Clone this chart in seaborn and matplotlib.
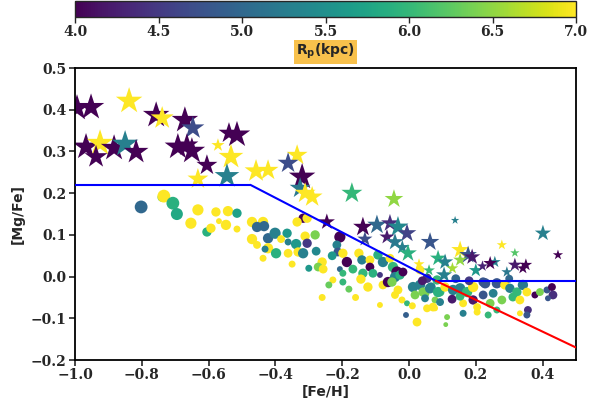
import matplotlib
matplotlib.use("Agg")
import matplotlib.pyplot as plt
import matplotlib.colors as mcolors
import matplotlib.cm as cm
import pandas as pd
import seaborn as sns

# ---- stars: [Fe/H], [Mg/Fe], guiding radius Rp (kpc), marker area ----
star_feh = [-0.994, -0.952, -0.838, -0.757, -0.739, -0.671, -0.647, -0.515, -0.539,
            -0.967, -0.925, -0.937, -0.883, -0.850, -0.817, -0.692, -0.665, -0.650,
            -0.572, -0.533, -0.605, -0.632, -0.545, -0.458, -0.422, -0.335, -0.362,
            -0.320, -0.326, -0.311, -0.290, -0.171, -0.045, -0.246, -0.138, -0.096,
            -0.057, -0.033, -0.006, -0.066, -0.042, -0.132, -0.020, 0.138, 0.401,
            0.063, 0.278, 0.317, 0.446, 0.153, 0.177, 0.189, 0.087, 0.108, -0.003,
            0.257, 0.243, 0.317, 0.341, 0.293, 0.153, 0.105, 0.200, 0.130, 0.220,
            0.060, 0.030, 0.350]
star_mgfe = [0.404, 0.406, 0.421, 0.387, 0.380, 0.375, 0.356, 0.340, 0.344,
             0.311, 0.320, 0.287, 0.308, 0.318, 0.299, 0.311, 0.315, 0.301,
             0.315, 0.287, 0.267, 0.234, 0.241, 0.253, 0.255, 0.291, 0.272,
             0.239, 0.212, 0.200, 0.191, 0.200, 0.186, 0.131, 0.119, 0.124,
             0.128, 0.119, 0.104, 0.095, 0.083, 0.090, 0.070, 0.135, 0.104,
             0.083, 0.076, 0.057, 0.052, 0.064, 0.052, 0.047, 0.044, 0.035, 0.056,
             0.035, 0.032, 0.028, 0.020, 0.011, 0.040, 0.004, 0.015, 0.020, 0.025,
             0.015, 0.030, 0.028]
star_rp = [4.0, 4.0, 7.0, 4.0, 7.0, 4.0, 4.7, 4.0, 4.0,
           4.0, 7.0, 4.0, 4.0, 5.3, 4.0, 4.0, 4.0, 4.0,
           7.0, 7.0, 4.0, 7.0, 5.3, 7.0, 7.0, 7.0, 4.7,
           4.0, 5.2, 7.0, 7.0, 6.0, 6.5, 4.0, 4.0, 5.0,
           4.4, 5.4, 4.6, 4.2, 5.2, 4.7, 5.3, 5.3, 5.3,
           4.8, 7.0, 6.2, 4.0, 7.0, 4.8, 4.2, 5.9, 5.3, 5.9,
           5.3, 4.0, 4.2, 4.0, 5.2, 6.5, 5.3, 5.6, 6.6, 4.3,
           6.0, 7.0, 4.0]
star_size = [400, 400, 400, 400, 300, 400, 300, 400, 250,
             400, 400, 300, 400, 400, 350, 400, 300, 400,
             100, 350, 250, 250, 350, 300, 250, 250, 250,
             400, 250, 250, 250, 250, 200, 150, 220, 220,
             180, 250, 200, 130, 170, 130, 120, 40, 150,
             200, 60, 50, 60, 180, 180, 150, 150, 150, 180,
             80, 110, 110, 80, 70, 110, 150, 110, 80, 70,
             80, 70, 90]

# ---- circles ----
circ_feh = [-0.802, -0.740, -0.734, -0.707, -0.695, -0.653, -0.632, -0.605, -0.593,
            -0.578, -0.542, -0.515, -0.548, -0.569, -0.515, -0.470, -0.437, -0.455,
            -0.434, -0.422, -0.401, -0.365, -0.383, -0.338, -0.362, -0.470, -0.455,
            -0.422, -0.398, -0.437, -0.362, -0.332, -0.317, -0.317, -0.305, -0.335,
            -0.311, -0.305, -0.431, -0.281, -0.278, -0.207, -0.216, -0.213, -0.198,
            -0.186, -0.207, -0.198, -0.260, -0.272, -0.257, -0.228, -0.198, -0.168,
            -0.150, -0.141, -0.117, -0.117, -0.138, -0.108, -0.144, -0.123, -0.093,
            -0.078, -0.057, -0.087, -0.078, -0.063, -0.048, -0.036, -0.042, -0.051,
            -0.027, -0.018, -0.033, -0.021, -0.006, -0.042, -0.087, 0.024, -0.009,
            0.012, 0.018, 0.033, 0.048, 0.054, 0.066, 0.078, 0.093, 0.114, 0.078,
            0.033, 0.084, 0.042, 0.063, 0.087, 0.108, 0.132, 0.153, 0.174, 0.192,
            0.228, 0.263, 0.287, 0.302, 0.323, 0.341, 0.353, 0.377, 0.392, 0.413,
            0.428, 0.431, 0.416, 0.129, 0.192, 0.162, 0.204, 0.243, 0.278, 0.311,
            0.332, 0.356, 0.353, 0.072, 0.054, 0.237, 0.162, 0.204, 0.263, 0.222,
            0.252, 0.153, 0.093, 0.048, 0.332, 0.222, 0.010, 0.040, 0.140, 0.180,
            0.300, 0.110, -0.240, -0.260, -0.180, -0.230, -0.300, -0.350, -0.160]
circ_mgfe = [0.167, 0.190, 0.193, 0.176, 0.150, 0.128, 0.160, 0.107, 0.116,
             0.155, 0.157, 0.152, 0.124, 0.133, 0.114, 0.131, 0.131, 0.119,
             0.121, 0.092, 0.104, 0.104, 0.090, 0.078, 0.083, 0.090, 0.076,
             0.068, 0.056, 0.044, 0.056, 0.059, 0.056, 0.140, 0.140, 0.131,
             0.097, 0.080, 0.066, 0.100, 0.061, 0.095, 0.076, 0.059, 0.056,
             0.035, 0.018, 0.008, 0.035, 0.023, 0.018, -0.008, -0.013, 0.018,
             0.056, 0.040, 0.040, 0.023, 0.008, 0.008, -0.006, -0.025, 0.052,
             0.035, 0.044, 0.004, -0.020, -0.013, 0.023, 0.011, -0.001, -0.013,
             0.004, 0.011, -0.032, -0.056, -0.064, -0.044, -0.068, -0.109, -0.092,
             -0.025, -0.044, -0.020, -0.040, -0.004, -0.025, -0.056, -0.037, -0.097, -0.076,
             0.016, -0.008, -0.037, -0.028, -0.037, -0.025, -0.032, -0.028, -0.037, -0.025,
             -0.016, -0.016, -0.020, -0.028, -0.037, -0.020, -0.037, -0.044, -0.037, -0.032,
             -0.025, -0.044, -0.052, -0.054, -0.056, -0.064, -0.073, -0.064, -0.056, -0.049,
             -0.056, -0.080, -0.092, -0.073, -0.076, -0.092, -0.088, -0.085, -0.080, -0.044,
             -0.040, -0.047, -0.061, -0.052, -0.088, -0.013, -0.070, -0.010, -0.005, -0.010,
             -0.005, -0.115, -0.020, -0.050, -0.030, 0.050, 0.020, 0.030, -0.050]
circ_rp = [5.0, 6.3, 7.0, 5.9, 5.8, 7.0, 7.0, 5.9, 7.0,
           7.0, 7.0, 5.7, 7.0, 7.0, 7.0, 7.0, 7.0, 5.0,
           5.0, 5.0, 5.3, 5.6, 7.0, 5.6, 5.3, 7.0, 7.0,
           7.0, 5.9, 7.0, 7.0, 7.0, 5.3, 4.0, 7.0, 7.0,
           7.0, 4.5, 5.3, 6.4, 5.4, 4.0, 5.3, 4.8, 7.0,
           4.0, 5.0, 6.0, 7.0, 6.4, 7.0, 7.0, 6.0, 6.0,
           7.0, 5.3, 7.0, 4.0, 6.0, 5.9, 7.0, 7.0, 5.9,
           5.3, 7.0, 4.5, 7.0, 4.0, 6.0, 4.0, 5.3, 6.4,
           5.9, 4.0, 7.0, 7.0, 6.0, 7.0, 7.0, 7.0, 4.9,
           5.3, 6.4, 5.3, 6.4, 4.5, 5.3, 6.4, 6.0, 6.4, 7.0,
           7.0, 6.0, 6.4, 5.3, 5.9, 7.0, 5.3, 5.3, 6.0, 7.0,
           4.8, 4.8, 7.0, 5.3, 6.0, 5.2, 7.0, 4.0, 6.4, 4.8,
           4.0, 4.4, 4.8, 4.2, 4.2, 7.0, 7.0, 6.4, 6.4, 6.0,
           7.0, 4.4, 4.8, 7.0, 7.0, 6.0, 5.3, 7.0, 6.0, 4.8,
           5.3, 6.0, 5.3, 5.3, 7.0, 4.8, 7.0, 4.2, 5.0, 4.5,
           5.0, 6.4, 6.3, 7.0, 6.3, 5.6, 5.6, 7.0, 7.0]
circ_size = [85, 40, 85, 85, 75, 65, 65, 45, 45,
             45, 55, 45, 55, 18, 25, 55, 55, 55,
             55, 55, 65, 45, 32, 55, 25, 55, 32,
             55, 55, 25, 40, 45, 55, 45, 45, 45,
             45, 45, 25, 45, 40, 65, 40, 40, 45,
             55, 18, 25, 45, 40, 40, 25, 25, 40,
             45, 45, 40, 40, 45, 40, 45, 45, 45,
             55, 40, 18, 40, 55, 55, 65, 55, 45,
             45, 40, 40, 25, 18, 32, 18, 40, 18,
             55, 40, 55, 40, 45, 45, 25, 40, 18, 18,
             40, 45, 45, 55, 55, 45, 55, 55, 55, 55,
             55, 55, 45, 45, 45, 55, 40, 25, 32, 25,
             32, 40, 18, 40, 45, 32, 32, 40, 40, 40,
             40, 32, 25, 40, 32, 25, 25, 25, 25, 40,
             40, 40, 32, 32, 18, 45, 25, 40, 40, 40,
             32, 12, 25, 25, 25, 40, 25, 25, 25]

# ---- chemical-evolution boundary lines ----
plateau_x = [-1.0, -0.475]
plateau_y = [0.22, 0.22]
slope_x = [-0.475, 0.08]
slope_y = [0.22, -0.01]
floor_x = [0.08, 0.5]
floor_y = [-0.01, -0.01]
red_x = [0.08, 0.5]
red_y = [-0.01, -0.17]

cbar_ticks = [4.0, 4.5, 5.0, 5.5, 6.0, 6.5, 7.0]
x_ticks = [-1.0, -0.8, -0.6, -0.4, -0.2, 0.0, 0.2, 0.4]
y_ticks = [-0.2, -0.1, 0.0, 0.1, 0.2, 0.3, 0.4, 0.5]

stars = pd.DataFrame({"feh": star_feh, "mgfe": star_mgfe, "rp": star_rp, "sz": star_size})
circles = pd.DataFrame({"feh": circ_feh, "mgfe": circ_mgfe, "rp": circ_rp, "sz": circ_size})

sns.set_style("ticks")
plt.rcParams["mathtext.default"] = "bf"

fig = plt.figure(figsize=(6.0, 4.05), dpi=100)
ax = fig.add_axes([0.125, 0.111, 0.835, 0.721])
cax = fig.add_axes([0.125, 0.958, 0.835, 0.040])

norm = mcolors.Normalize(vmin=4.0, vmax=7.0)
cmap = "viridis"

smin = 10
smax = 400
sns.scatterplot(data=circles, x="feh", y="mgfe", hue="rp", palette=cmap, hue_norm=norm,
                size="sz", sizes=(smin, smax), size_norm=(smin, smax),
                marker="o", linewidth=0, legend=False, ax=ax, zorder=2)
sns.scatterplot(data=stars, x="feh", y="mgfe", hue="rp", palette=cmap, hue_norm=norm,
                size="sz", sizes=(smin, smax), size_norm=(smin, smax),
                marker="*", linewidth=0, legend=False, ax=ax, zorder=2)

ax.plot(plateau_x, plateau_y, color="blue", lw=1.5, zorder=3)
ax.plot(slope_x, slope_y, color="blue", lw=1.5, zorder=3)
ax.plot(floor_x, floor_y, color="blue", lw=1.5, zorder=3)
ax.plot(red_x, red_y, color="red", lw=1.5, zorder=3)

ax.set_xlim(-1.0, 0.5)
ax.set_ylim(-0.2, 0.5)
ax.set_xticks(x_ticks)
ax.set_yticks(y_ticks)
ax.set_xticklabels([f"{t:.1f}".replace("-", "\u2212") for t in x_ticks],
                   family="DejaVu Serif", fontweight="bold", fontsize=10)
ax.set_yticklabels([f"{t:.1f}".replace("-", "\u2212") for t in y_ticks],
                   family="DejaVu Serif", fontweight="bold", fontsize=10)
ax.set_xlabel("[Fe/H]", fontweight="bold", fontsize=10, labelpad=2)
ax.set_ylabel("[Mg/Fe]", fontweight="bold", fontsize=10, labelpad=4)
ax.tick_params(direction="out", length=4, width=1.2, pad=2)
for sp in ax.spines.values():
    sp.set_linewidth(1.3)
    sp.set_color("black")

sm = cm.ScalarMappable(norm=norm, cmap=cmap)
cb = fig.colorbar(sm, cax=cax, orientation="horizontal", ticks=cbar_ticks)
cb.outline.set_linewidth(1.0)
cax.set_xticklabels([f"{t:.1f}" for t in cbar_ticks], family="DejaVu Serif",
                    fontweight="bold", fontsize=10)
cax.tick_params(direction="out", length=4, width=1.0, pad=2)
cb.set_label(r"R$_{p}$(kpc)", fontweight="bold", fontsize=10, labelpad=2,
             bbox=dict(facecolor="#f8c14c", edgecolor="none", pad=1.5))

fig.savefig("out.png", dpi=100)
